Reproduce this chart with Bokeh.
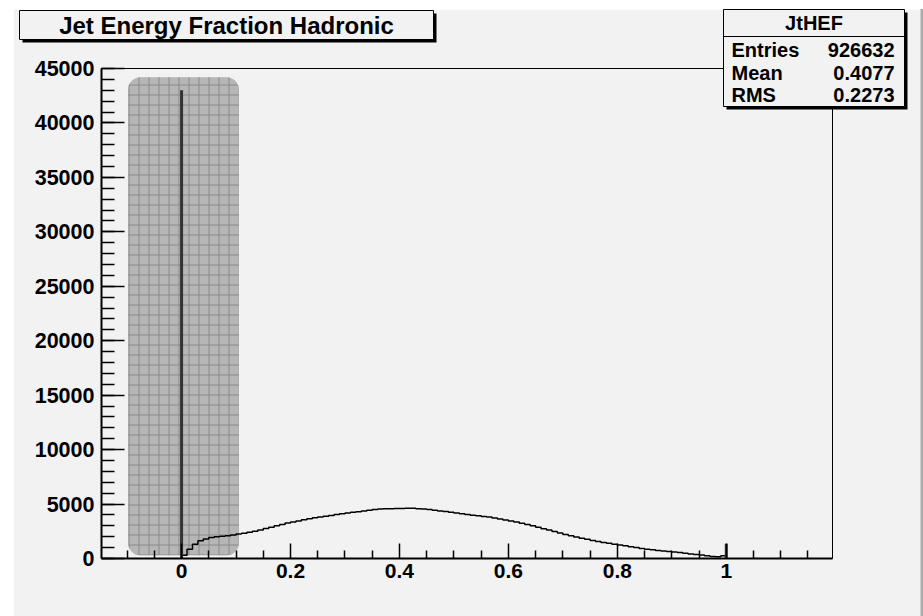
from bokeh.plotting import figure
from bokeh.models import (Range1d, FixedTicker, BoxAnnotation,
                          ColumnDataSource, CustomJSTickFormatter)
from bokeh.core.properties import value
from bokeh.embed import file_html
from bokeh.resources import INLINE

# ---------------- data ----------------
title_text = "Jet Energy Fraction Hadronic"
stats_name = "JtHEF"
stats_labels = ["Entries", "Mean", "RMS"]
stats_values = ["926632", "0.4077", "0.2273"]

bin_width = 0.01
hist_start = 0.0
hist_counts = [
    300, 850, 1300, 1620, 1800, 1940, 2000, 2040, 2080, 2150,
    2250, 2330, 2410, 2500, 2620, 2760, 2880, 3000, 3120, 3260,
    3360, 3450, 3560, 3650, 3740, 3800, 3880, 3950, 4040, 4110,
    4180, 4240, 4300, 4370, 4430, 4500, 4540, 4570, 4580, 4590,
    4600, 4620, 4620, 4580, 4540, 4490, 4430, 4370, 4310, 4240,
    4180, 4110, 4050, 3980, 3920, 3860, 3800, 3720, 3630, 3540,
    3450, 3360, 3240, 3120, 3000, 2870, 2740, 2610, 2480, 2340,
    2210, 2100, 1980, 1870, 1760, 1660, 1570, 1480, 1400, 1320,
    1240, 1160, 1080, 1000, 920, 860, 800, 740, 690, 640,
    590, 540, 480, 420, 370, 320, 260, 190, 170, 260,
]
spike_x = [0.0, 1.0]
spike_counts = [43000, 1350]

highlight_x = [-0.098, 0.105]
highlight_y = [300, 44200]

x_major_ticks = [0, 0.2, 0.4, 0.6, 0.8, 1.0]
x_minor_ticks = [-0.1, -0.05, 0.05, 0.1, 0.15, 0.25, 0.3, 0.35, 0.45, 0.5,
                 0.55, 0.65, 0.7, 0.75, 0.85, 0.9, 0.95, 1.05, 1.1, 1.15]
y_major_ticks = [0, 5000, 10000, 15000, 20000, 25000, 30000, 35000, 40000, 45000]
y_minor_ticks = list(range(0, 45001, 1000))

# ---------------- layout ----------------
X0, X1 = -0.147, 1.195
Y0, Y1 = 0, 45000
FL, FT, FW, FH = 101, 68, 731, 490   # frame in page pixels

def dx(px):
    return X0 + (px - FL) / FW * (X1 - X0)

def dy(py):
    return Y1 - (py - FT) / FH * (Y1 - Y0)

BG = "#f2f2f2"
FONT = "Liberation Sans"

p = figure(frame_width=FW, frame_height=FH,
           x_range=Range1d(X0, X1), y_range=Range1d(Y0, Y1),
           output_backend="svg", toolbar_location=None,
           min_border_left=88, min_border_right=91,
           min_border_top=59, min_border_bottom=58,
           margin=(9, 0, 0, 13))
p.background_fill_color = BG
p.border_fill_color = BG
p.outline_line_color = "black"
p.outline_line_width = 1
p.grid.visible = False

p.xaxis.ticker = FixedTicker(ticks=x_major_ticks, minor_ticks=x_minor_ticks)
p.xaxis.formatter = CustomJSTickFormatter(code="return String(tick)")
p.yaxis.ticker = FixedTicker(ticks=y_major_ticks, minor_ticks=y_minor_ticks)

for ax in (p.xaxis[0], p.yaxis[0]):
    ax.axis_line_width = 2
    ax.axis_line_color = "black"
    ax.major_tick_line_width = 1.5
    ax.minor_tick_line_width = 1.5
    ax.major_tick_out = 0
    ax.minor_tick_out = 0
    ax.major_label_text_font = FONT
    ax.major_label_text_font_style = "bold"
    ax.major_label_text_color = "black"
p.xaxis.major_tick_in = 15
p.xaxis.minor_tick_in = 8
p.xaxis.major_label_text_font_size = "21px"
p.xaxis.major_label_standoff = 5
p.yaxis.major_tick_in = 23
p.yaxis.minor_tick_in = 13
p.yaxis.major_label_text_font_size = "21.5px"
p.yaxis.major_label_standoff = 7

# highlighted region
p.add_layout(BoxAnnotation(left=highlight_x[0], right=highlight_x[1],
                           bottom=highlight_y[0], top=highlight_y[1],
                           fill_color="#b6b6b6", fill_alpha=1, line_color=None,
                           hatch_pattern="+", hatch_color="#8a8a8a",
                           hatch_scale=10, hatch_weight=1, hatch_alpha=1,
                           border_radius=12, level="underlay"))

# histogram
edges = [hist_start + i * bin_width for i in range(len(hist_counts) + 1)]
hist_src = ColumnDataSource(dict(x=edges, y=hist_counts + [0]))
p.step(x="x", y="y", mode="after", source=hist_src,
       line_color="black", line_width=1.5)

spike_src = ColumnDataSource(dict(x=spike_x, y0=[0] * len(spike_x), y1=spike_counts))
p.segment(x0="x", y0="y0", x1="x", y1="y1", source=spike_src,
          line_color="#333333", line_width=3)

# ---------------- boxes outside the frame (overlay level, not clipped) ----------------
def framed_box(l, t, r, b, shadow=3):
    p.quad(left=[dx(l + shadow)], right=[dx(r + shadow)],
           top=[dy(t + shadow)], bottom=[dy(b + shadow)],
           fill_color="black", line_color=None, level="overlay")
    p.quad(left=[dx(l)], right=[dx(r)], top=[dy(t)], bottom=[dy(b)],
           fill_color=BG, line_color="black", line_width=1, level="overlay")

# window edge strip
p.quad(left=[dx(920)], right=[dx(924)], top=[dy(0)], bottom=[dy(617)],
       fill_color="#a9a9a9", line_color=None, level="overlay")

# title box
framed_box(19, 10, 433, 39)
p.text(x=[dx(226)], y=[dy(25)], text=[title_text], text_align="center",
       text_baseline="middle", text_font=value(FONT), text_font_style="bold",
       text_font_size=value("24px"), text_color="black", level="overlay")

# stats box
framed_box(723, 9, 904, 106)
p.segment(x0=[dx(723)], y0=[dy(36)], x1=[dx(904)], y1=[dy(36)],
          line_color="black", line_width=1, level="overlay")
p.text(x=[dx(813.5)], y=[dy(22)], text=[stats_name], text_align="center",
       text_baseline="middle", text_font=value(FONT), text_font_style="bold",
       text_font_size=value("20px"), text_color="black", level="overlay")
row_y = [dy(v) for v in (49, 72.5, 94.5)]
p.text(x=[dx(731)] * 3, y=row_y, text=stats_labels, text_align="left",
       text_baseline="middle", text_font=value(FONT), text_font_style="bold",
       text_font_size=value("20px"), text_color="black", level="overlay")
p.text(x=[dx(894)] * 3, y=row_y, text=stats_values, text_align="right",
       text_baseline="middle", text_font=value(FONT), text_font_style="bold",
       text_font_size=value("20px"), text_color="black", level="overlay")

open("out.html", "w").write(file_html(p, INLINE))
